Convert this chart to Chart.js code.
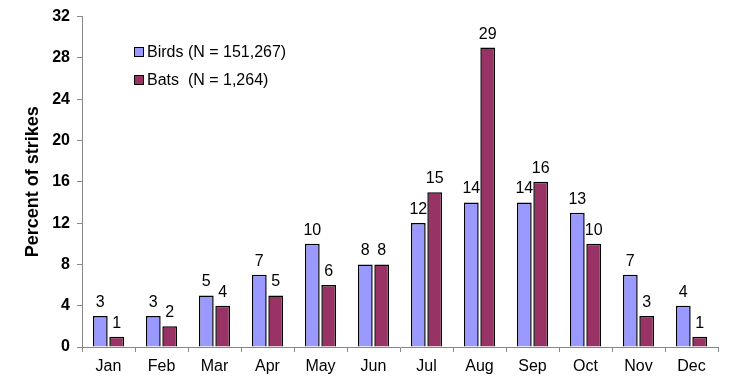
<!DOCTYPE html>
<html><head><meta charset="utf-8">
<script src="https://cdn.jsdelivr.net/npm/chart.js@4"></script>
<style>html,body{margin:0;padding:0;background:#fff;}#wrap{width:748px;height:379px;}</style>
</head><body><div id="wrap"><canvas id="c" width="748" height="379"></canvas></div>
<script>
const months = ["Jan","Feb","Mar","Apr","May","Jun","Jul","Aug","Sep","Oct","Nov","Dec"];
const birds = [3,3,5,7,10,8,12,14,14,13,7,4];
const bats = [1,2,4,5,6,8,15,29,16,10,3,1];
const birdsLabel = "Birds (N = 151,267)";
const batsLabel = "Bats  (N = 1,264)";
const FONT = "Arial, 'Liberation Sans', sans-serif";

const labelPlugin = {
  id: 'vals',
  afterDatasetsDraw(chart) {
    const ctx = chart.ctx;
    ctx.save();
    ctx.font = "16px " + FONT;
    ctx.fillStyle = "#000";
    ctx.textAlign = "center";
    ctx.textBaseline = "alphabetic";
    chart.data.datasets.forEach((ds, i) => {
      chart.getDatasetMeta(i).data.forEach((bar, j) => {
        ctx.fillText(String(ds.data[j]), bar.x, bar.y - 9);
      });
    });
    // legend
    const items = chart.data.datasets;
    const ys = [52, 80];
    items.forEach((ds, i) => {
      ctx.fillStyle = ds.backgroundColor;
      ctx.fillRect(134, ys[i] - 5, 10, 10);
      ctx.strokeStyle = "#000";
      ctx.lineWidth = 1;
      ctx.strokeRect(134.5, ys[i] - 4.5, 9, 9);
      ctx.fillStyle = "#000";
      ctx.textAlign = "left";
      ctx.textBaseline = "middle";
      ctx.font = "16px " + FONT;
      ctx.fillText(ds.label, 147, ys[i] + 1);
    });
    ctx.restore();
  }
};

new Chart(document.getElementById('c'), {
  type: 'bar',
  data: {
    labels: months,
    datasets: [
      {label: birdsLabel, data: birds, backgroundColor: "#9999FF", borderColor: "#000", borderWidth: 1.5},
      {label: batsLabel, data: bats, backgroundColor: "#993366", borderColor: "#000", borderWidth: 1.5}
    ]
  },
  options: {
    responsive: false,
    animation: false,
    devicePixelRatio: 1,
    layout: {padding: {top: 2, right: 30, left: 22, bottom: 0}},
    categoryPercentage: 0.62,
    barPercentage: 0.9,
    plugins: {legend: {display: false}, tooltip: {enabled: false}},
    scales: {
      x: {
        grid: {display: true, drawOnChartArea: false, tickLength: 5, color: "#888", offset: true},
        border: {color: "#888"},
        ticks: {color: "#000", font: {family: FONT, size: 16}, padding: 5},
        afterFit(s) { s.height = 32; }
      },
      y: {
        min: 0, max: 32,
        ticks: {stepSize: 4, color: "#000", font: {family: FONT, size: 16, weight: 'bold'}, padding: 7},
        grid: {display: true, drawOnChartArea: false, tickLength: 5, color: "#888"},
        border: {color: "#888"},
        title: {display: true, text: "Percent of strikes", color: "#000", font: {family: FONT, size: 18, weight: 'bold'}, padding: {top: 0, bottom: 0}},
        afterFit(s) { s.width = 60; }
      }
    }
  },
  plugins: [labelPlugin]
});
</script></body></html>
